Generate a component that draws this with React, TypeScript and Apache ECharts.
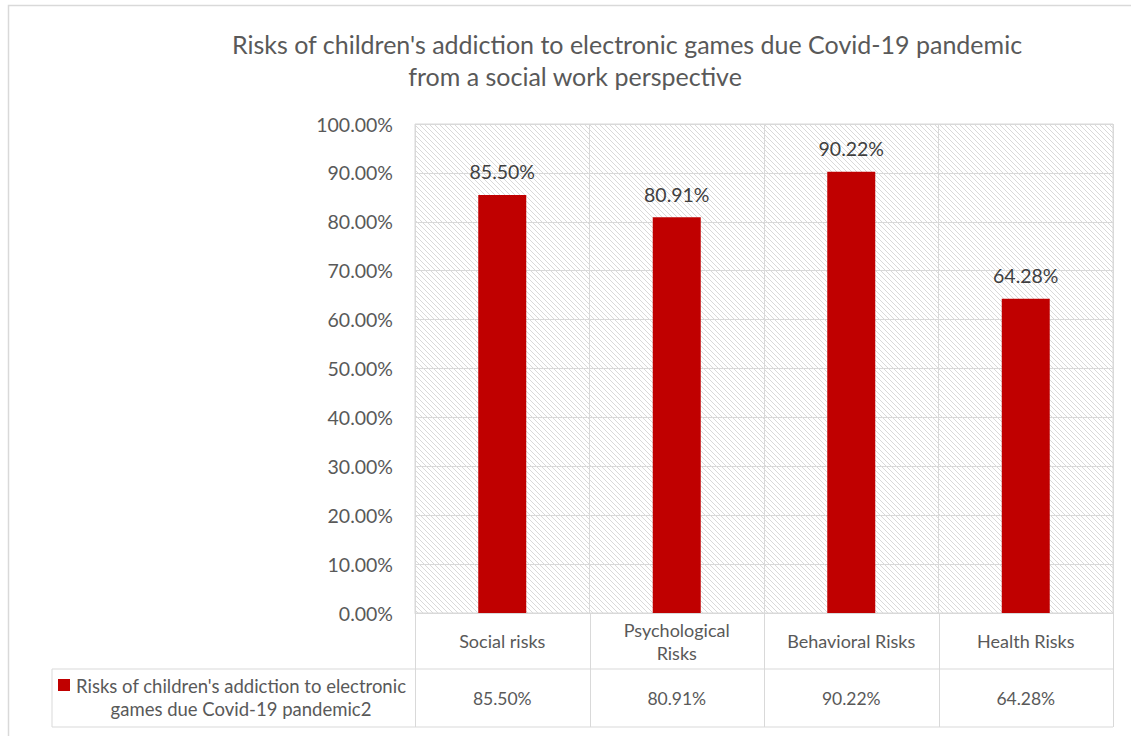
import React, { useEffect, useRef } from "react";
import * as echarts from "echarts";

const categories = ["Social risks", "Psychological\nRisks", "Behavioral Risks", "Health Risks"];
const values = [85.5, 80.91, 90.22, 64.28];
const seriesName = "Risks of children's addiction to electronic games due Covid-19 pandemic2";
const legendLines = ["Risks of children's addiction to electronic", "games due Covid-19 pandemic2"];
const titleLines = [
  "Risks of children's addiction to electronic games due Covid-19 pandemic",
  "from a social work perspective",
];
const yMin = 0;
const yMax = 100;
const yStep = 10;

const FONT = "Lato, 'Open Sans', sans-serif";
const TEXT = "#595959";
const LINE = "#d9d9d9";
const BAR = "#c00000";

const fmt = (v: number) => v.toFixed(2) + "%";

function makeHatch(): HTMLCanvasElement {
  const c = document.createElement("canvas");
  const s = 5;
  c.width = s;
  c.height = s;
  const ctx = c.getContext("2d")!;
  ctx.fillStyle = "#ffffff";
  ctx.fillRect(0, 0, s, s);
  ctx.strokeStyle = "#d9d9d9";
  ctx.lineWidth = 1;
  for (const off of [-s, 0, s]) {
    ctx.beginPath();
    ctx.moveTo(off - 1, -1);
    ctx.lineTo(off + s + 1, s + 1);
    ctx.stroke();
  }
  return c;
}

export default function App() {
  const ref = useRef<HTMLDivElement>(null);
  useEffect(() => {
    if (!ref.current) return;
    const chart = echarts.init(ref.current, null, { renderer: "svg" });
    const gl = 415, gt = 124, gw = 698, gh = 489;
    const gb = gt + gh; // 613
    const row1 = 669, row2 = 727;
    const colW = gw / categories.length;
    const lineStyle = { stroke: LINE, lineWidth: 1 };
    const graphics: any[] = [
      { type: "rect", shape: { x: 8.5, y: 5.5, width: 1140, height: 760 }, style: { fill: "none", stroke: LINE, lineWidth: 1.5 }, silent: true, z: -10 },
      { type: "line", shape: { x1: 52, y1: row1, x2: gl + gw, y2: row1 }, style: lineStyle },
      { type: "line", shape: { x1: 52, y1: row2, x2: gl + gw, y2: row2 }, style: lineStyle },
      { type: "line", shape: { x1: 52, y1: row1, x2: 52, y2: row2 }, style: lineStyle },
    ];
    for (let i = 0; i <= categories.length; i++) {
      const x = Math.round(gl + i * colW) + 0.5;
      graphics.push({ type: "line", shape: { x1: x, y1: gb, x2: x, y2: row2 }, style: lineStyle });
    }
    graphics.push({
      type: "text",
      x: 627,
      y: 44,
      style: { text: titleLines[0], fill: TEXT, font: `25px ${FONT}`, align: "center", verticalAlign: "middle" },
    });
    graphics.push({
      type: "text",
      x: 575,
      y: 76,
      style: { text: titleLines[1], fill: TEXT, font: `25px ${FONT}`, align: "center", verticalAlign: "middle" },
    });
    graphics.push({ type: "rect", shape: { x: 58, y: 679, width: 12, height: 12 }, style: { fill: BAR } });
    graphics.push({
      type: "text",
      x: 241,
      y: 697,
      style: {
        text: legendLines.join("\n"),
        fill: TEXT,
        font: `18.5px ${FONT}`,
        align: "center",
        verticalAlign: "middle",
        lineHeight: 23,
      },
    });

    chart.setOption({
      animation: false,
      textStyle: { fontFamily: FONT },
      legend: { show: false },
      grid: {
        left: gl,
        top: gt,
        width: gw,
        height: gh,
        show: true,
        backgroundColor: { image: makeHatch(), repeat: "repeat" } as any,
        borderColor: LINE,
        borderWidth: 1,
      },
      xAxis: [
        {
          type: "category",
          data: categories,
          position: "bottom",
          axisLine: { show: true, lineStyle: { color: LINE } },
          axisTick: { show: false },
          splitLine: { show: true, lineStyle: { color: LINE } },
          axisLabel: {
            color: TEXT,
            fontSize: 18,
            fontFamily: FONT,
            margin: 28,
            verticalAlign: "middle",
            lineHeight: 23,
            interval: 0,
          },
        },
        {
          type: "category",
          data: values.map(fmt),
          position: "bottom",
          offset: 56,
          axisLine: { show: false },
          axisTick: { show: false },
          splitLine: { show: false },
          axisLabel: {
            color: TEXT,
            fontSize: 17.5,
            fontFamily: FONT,
            margin: 29,
            verticalAlign: "middle",
            interval: 0,
          },
        },
      ],
      yAxis: {
        type: "value",
        min: yMin,
        max: yMax,
        interval: yStep,
        axisLine: { show: false },
        axisTick: { show: false },
        splitLine: { lineStyle: { color: LINE } },
        axisLabel: { color: TEXT, fontSize: 19.5, fontFamily: FONT, margin: 22, formatter: (v: number) => fmt(v) },
      },
      series: [
        {
          name: seriesName,
          type: "bar",
          data: values,
          barWidth: 48,
          itemStyle: { color: BAR },
          label: {
            show: true,
            position: "top",
            distance: 13,
            color: "#404040",
            fontSize: 19.5,
            fontFamily: FONT,
            formatter: (p: any) => fmt(p.value),
          },
        },
      ],
      graphic: graphics,
    });
    return () => chart.dispose();
  }, []);
  return (
    <div
      ref={ref}
      style={{ position: "fixed", left: 0, top: 0, width: 1131, height: 736, background: "#fff" }}
    />
  );
}
